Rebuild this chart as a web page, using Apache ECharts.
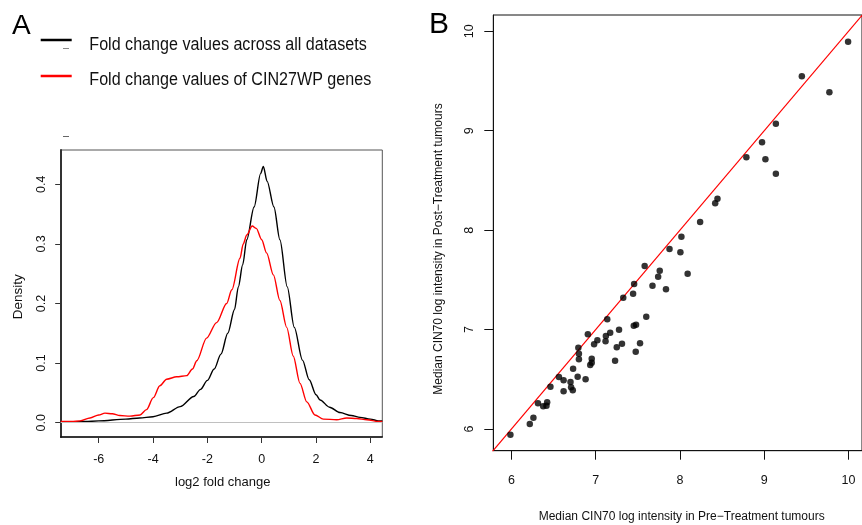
<!DOCTYPE html>
<html>
<head>
<meta charset="utf-8">
<script src="https://cdn.jsdelivr.net/npm/echarts@6/dist/echarts.min.js"></script>
<style>
html,body{margin:0;padding:0;background:#fff;}
#c{width:862px;height:525px;}
</style>
</head>
<body>
<div id="c"></div>
<script>
// ---------- Panel A data: density curves (x = log2 fold change, y = density) ----------
const allDatasetsX = [-7.4,-6.5,-6,-5,-4.5,-4,-3.5,-3,-2.5,-2.25,-2,-1.75,-1.5,-1.25,-1,-0.86,-0.7,-0.55,-0.28,-0.04,0.06,0.2,0.45,0.67,0.94,1.2,1.5,1.75,2,2.15,2.5,2.88,3.3,3.62,4,4.3,4.44];
const allDatasetsY = [0.001,0.002,0.003,0.006,0.008,0.010,0.016,0.027,0.044,0.056,0.071,0.090,0.115,0.150,0.190,0.228,0.265,0.307,0.362,0.418,0.430,0.405,0.362,0.307,0.228,0.160,0.105,0.072,0.047,0.038,0.026,0.017,0.012,0.009,0.006,0.003,0.003];
const cin27X = [-7.4,-7,-6.69,-6.32,-6,-5.77,-5.5,-5.22,-4.85,-4.48,-4.24,-3.99,-3.75,-3.5,-3.13,-2.76,-2.55,-2.39,-2.03,-1.66,-1.29,-1.1,-0.8,-0.68,-0.55,-0.35,-0.2,0,0.18,0.43,0.67,0.92,1.16,1.41,1.66,1.96,2.27,2.76,3.13,3.5,3.87,4.3,4.44];
const cin27Y = [0.002,0.002,0.003,0.008,0.013,0.016,0.015,0.012,0.011,0.013,0.022,0.042,0.062,0.073,0.077,0.079,0.090,0.104,0.142,0.168,0.200,0.223,0.276,0.300,0.315,0.330,0.326,0.307,0.285,0.248,0.205,0.160,0.112,0.066,0.035,0.013,0.006,0.005,0.008,0.007,0.005,0.002,0.002];
const aXTicks = [-6,-4,-2,0,2,4];
const aYTicks = [0,0.1,0.2,0.3,0.4];

// ---------- Panel B data: median CIN70 log intensity, pre vs post ----------
const preTreatment = [9.995,9.446,9.773,9.138,8.974,8.788,9.014,9.138,8.445,8.418,8.239,8.017,7.876,8.005,8.091,7.581,7.760,7.741,7.674,7.456,7.834,7.444,7.327,7.137,7.600,7.479,7.452,7.277,7.172,7.121,6.907,7.020,7.117,6.981,7.312,7.526,6.794,7.250,6.801,7.475,6.801,6.953,7.230,6.953,6.935,6.732,6.564,6.786,6.619,6.880,6.701,6.463,6.708,6.619,6.728,6.315,6.424,6.377,6.416,6.261,6.218,5.988];
const postTreatment = [9.896,9.548,9.387,9.071,8.884,8.733,8.713,8.568,8.317,8.271,8.083,7.935,7.811,7.778,7.562,7.640,7.593,7.532,7.442,7.459,7.405,7.361,7.321,7.103,7.130,7.049,7.039,6.999,6.969,6.936,6.952,6.892,6.882,6.852,6.858,6.862,6.818,6.822,6.758,6.778,6.701,6.707,6.687,6.667,6.644,6.607,6.523,6.526,6.490,6.500,6.473,6.426,6.419,6.379,6.389,6.259,6.269,6.228,6.235,6.114,6.050,5.943];
const identityLine = [5.5, 10.5];
const bXTicks = [6,7,8,9,10];
const bYTicks = [6,7,8,9,10];

const FONT = 'Liberation Sans, Arial, sans-serif';
const zip = (a, b) => a.map((v, i) => [v, b[i]]);

const chart = echarts.init(document.getElementById('c'), null, {renderer: 'canvas'});

const tickLabel = {fontFamily: FONT, fontSize: 12.5, color: '#111'};

chart.setOption({
  animation: false,
  backgroundColor: '#fff',
  grid: [
    {left: 60.7, top: 150, width: 321.6, height: 287, show: true, borderColor: '#555', borderWidth: 1, containLabel: false},
    {left: 493.3, top: 15, width: 374.4, height: 435.7, show: true, borderColor: '#111', borderWidth: 1, containLabel: false}
  ],
  xAxis: [
    {gridIndex: 0, type: 'value', min: -7.40, max: 4.44,
     axisLine: {show: true, onZero: false, lineStyle: {color: '#111', width: 1.5}},
     axisTick: {show: true, length: 6, customValues: aXTicks, lineStyle: {color: '#333'}},
     axisLabel: Object.assign({margin: 16.5, customValues: aXTicks, formatter: v => String(v)}, tickLabel),
     splitLine: {show: false}},
    {gridIndex: 1, type: 'value', min: 5.785, max: 10.16,
     axisLine: {show: true, onZero: false, lineStyle: {color: '#111', width: 1}},
     axisTick: {show: true, length: 9, customValues: bXTicks, lineStyle: {color: '#111'}},
     axisLabel: Object.assign({margin: 23, customValues: bXTicks, formatter: v => String(v)}, tickLabel),
     splitLine: {show: false}}
  ],
  yAxis: [
    {gridIndex: 0, type: 'value', min: -0.024, max: 0.4576,
     axisLine: {show: true, onZero: false, lineStyle: {color: '#333', width: 2}},
     axisTick: {show: true, length: 5.5, customValues: aYTicks, lineStyle: {color: '#333'}},
     axisLabel: Object.assign({margin: 13, rotate: 90, customValues: aYTicks, formatter: v => v.toFixed(1)}, tickLabel),
     splitLine: {show: false}},
    {gridIndex: 1, type: 'value', min: 5.782, max: 10.164,
     axisLine: {show: true, onZero: false, lineStyle: {color: '#111', width: 1}},
     axisTick: {show: true, length: 9, customValues: bYTicks, lineStyle: {color: '#111'}},
     axisLabel: Object.assign({margin: 17, rotate: 90, customValues: bYTicks, formatter: v => String(v)}, tickLabel),
     splitLine: {show: false}}
  ],
  series: [
    {type: 'line', xAxisIndex: 0, yAxisIndex: 0, data: zip(allDatasetsX, allDatasetsY),
     showSymbol: false, smooth: 0.3, smoothMonotone: 'x', clip: true,
     lineStyle: {color: '#000', width: 1.4}, z: 3,
     markLine: {silent: true, symbol: 'none', label: {show: false},
       lineStyle: {color: '#c0c0c0', width: 1, type: 'solid'}, data: [{yAxis: 0}]}},
    {type: 'line', xAxisIndex: 0, yAxisIndex: 0, data: zip(cin27X, cin27Y),
     showSymbol: false, smooth: 0.3, smoothMonotone: 'x', clip: true,
     lineStyle: {color: '#ff0000', width: 1.4}, z: 4},
    {type: 'scatter', xAxisIndex: 1, yAxisIndex: 1, data: zip(preTreatment, postTreatment),
     symbol: 'circle', symbolSize: 6.5, itemStyle: {color: '#000'}, z: 4},
    {type: 'line', xAxisIndex: 1, yAxisIndex: 1, data: zip(identityLine, identityLine),
     showSymbol: false, clip: true, lineStyle: {color: '#ff0000', width: 1.2}, z: 3}
  ],
  graphic: [
    {type: 'text', x: 12, y: 26, style: {text: 'A', fontFamily: FONT, fontSize: 28, fill: '#000', verticalAlign: 'middle'}},
    {type: 'text', x: 429, y: 25, style: {text: 'B', fontFamily: FONT, fontSize: 30, fill: '#000', verticalAlign: 'middle'}},
    {type: 'line', shape: {x1: 40.7, y1: 40, x2: 71.7, y2: 40}, style: {stroke: '#000', lineWidth: 2.5}},
    {type: 'line', shape: {x1: 40.7, y1: 76, x2: 71.7, y2: 76}, style: {stroke: '#ff0000', lineWidth: 2.5}},
    {type: 'line', shape: {x1: 63, y1: 48.5, x2: 69, y2: 48.5}, style: {stroke: '#888', lineWidth: 1}},
    {type: 'line', shape: {x1: 63, y1: 136.5, x2: 69, y2: 136.5}, style: {stroke: '#666', lineWidth: 1}},
    {type: 'text', x: 89.3, y: 45, scaleX: 0.92, style: {text: 'Fold change values across all datasets', fontFamily: FONT, fontSize: 17.5, fill: '#111', verticalAlign: 'middle'}},
    {type: 'text', x: 89.3, y: 80.5, scaleX: 0.92, style: {text: 'Fold change values of CIN27WP genes', fontFamily: FONT, fontSize: 17.5, fill: '#111', verticalAlign: 'middle'}},
    {type: 'text', x: 18, y: 296.7, rotation: Math.PI / 2, style: {text: 'Density', fontFamily: FONT, fontSize: 13.5, fill: '#111', align: 'center', verticalAlign: 'middle'}},
    {type: 'text', x: 222.7, y: 482.7, style: {text: 'log2 fold change', fontFamily: FONT, fontSize: 13, fill: '#111', align: 'center', verticalAlign: 'middle'}},
    {type: 'text', x: 438.5, y: 249, rotation: Math.PI / 2, style: {text: 'Median CIN70 log intensity in Post\u2212Treatment tumours', fontFamily: FONT, fontSize: 12, fill: '#111', align: 'center', verticalAlign: 'middle'}},
    {type: 'text', x: 681.7, y: 516.7, style: {text: 'Median CIN70 log intensity in Pre\u2212Treatment tumours', fontFamily: FONT, fontSize: 12, fill: '#111', align: 'center', verticalAlign: 'middle'}}
  ]
});
</script>
</body>
</html>
